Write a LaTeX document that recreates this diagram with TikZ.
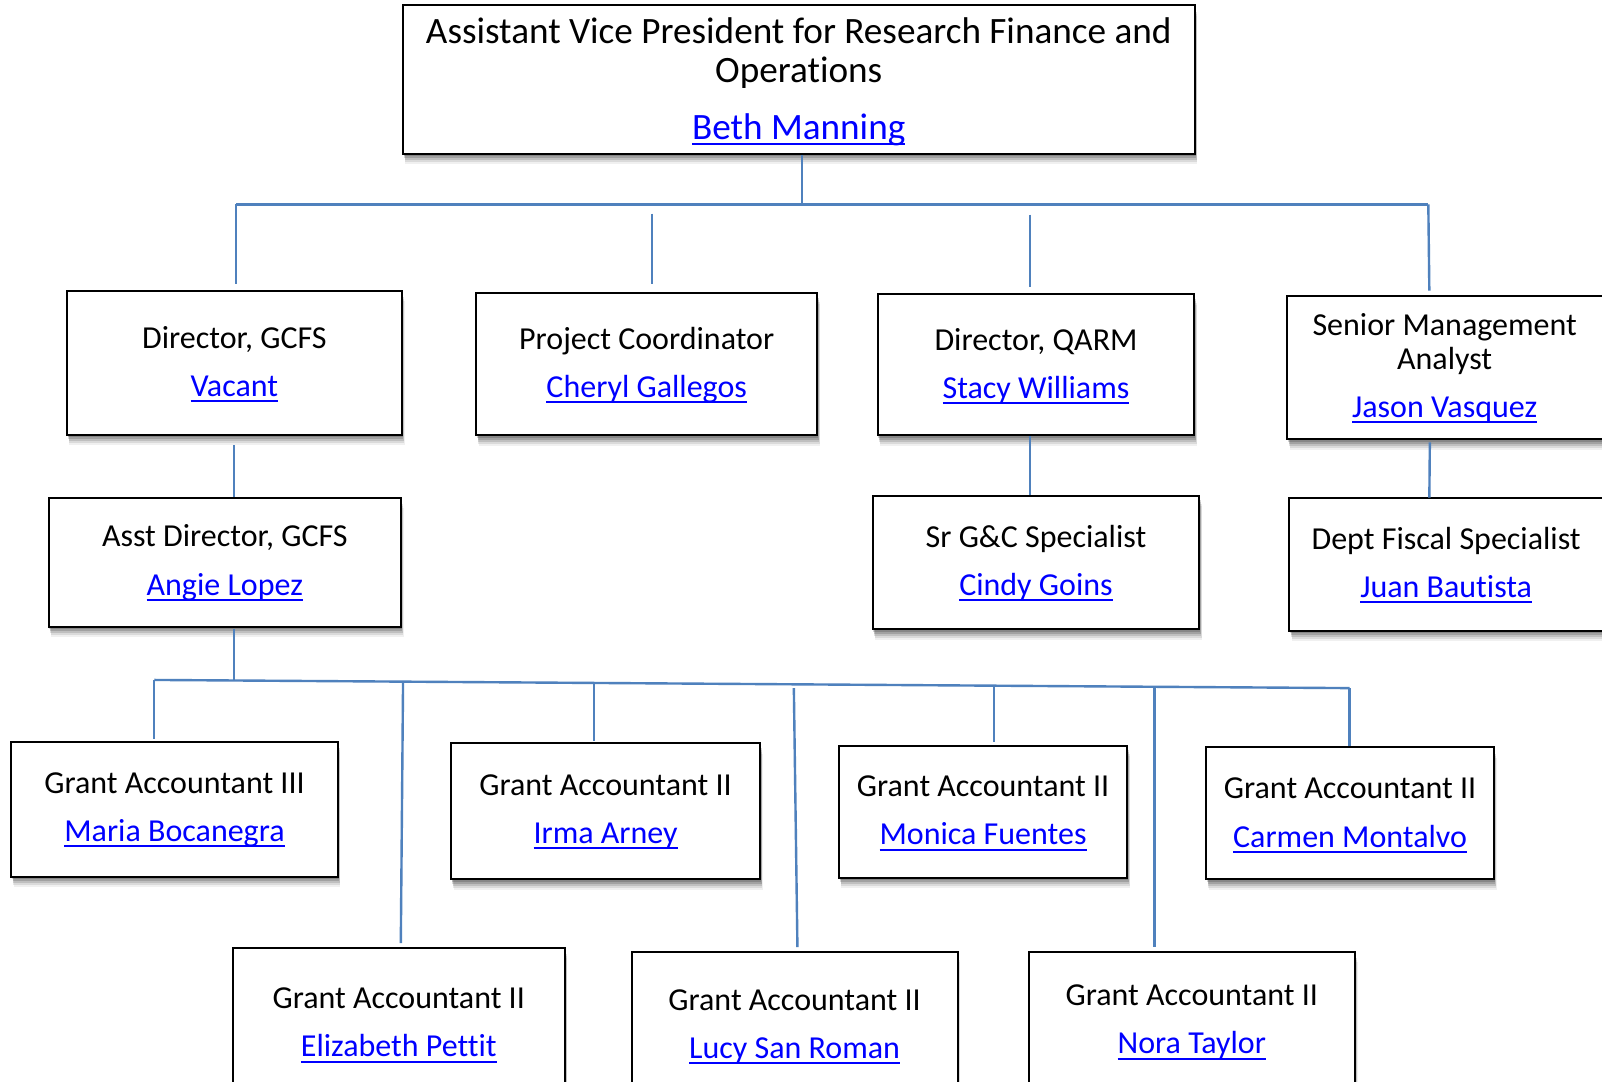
\documentclass[tikz,border=0pt]{standalone}
\usepackage{fontspec}
\setmainfont{Carlito}[Ligatures=NoCommon]
\usetikzlibrary{fit,shadows}
\definecolor{connblue}{RGB}{79,129,189}
\definecolor{linkblue}{RGB}{0,0,255}
\newcommand{\lnk}[1]{\textcolor{linkblue}{\setbox0\hbox{#1}\rlap{\vrule height -1.9pt depth 2.9pt width \wd0}\box0}}
\tikzset{
  softshadow/.style={
    general shadow={fill=black, opacity=0.17, shadow xshift=0.4pt, shadow yshift=-1.2pt},
    general shadow={fill=black, opacity=0.15, shadow xshift=0.7pt, shadow yshift=-2.2pt},
    general shadow={fill=black, opacity=0.12, shadow xshift=0.9pt, shadow yshift=-3.2pt},
    general shadow={fill=black, opacity=0.09, shadow xshift=1.1pt, shadow yshift=-4.2pt},
    general shadow={fill=black, opacity=0.06, shadow xshift=1.3pt, shadow yshift=-5.2pt}},
  orgbox/.style={draw=black, line width=1pt, fill=white, inner sep=0pt, softshadow},
  txt/.style={anchor=base, inner sep=0pt, font=\fontsize{16}{19}\selectfont},
  toptxt/.style={anchor=base, inner sep=0pt, font=\fontsize{18.6}{22}\selectfont},
  conn/.style={draw=connblue, line width=1.2pt}
}
\begin{document}
\begin{tikzpicture}[x=0.51085pt, y=-0.51085pt]
\useasboundingbox (0,0) rectangle (1568,1059);
\fill[white] (0,0) rectangle (1568,1059);

% ---------- boxes ----------
\node[orgbox, fit={(394.3,5) (1169.4,150.7)}] (avp) {};
\node[orgbox, fit={(65.3,284.8) (393.5,425.8)}] (dg) {};
\node[orgbox, fit={(466,287) (800,426)}] (pc) {};
\node[orgbox, fit={(859,288) (1169,426)}] (dq) {};
\node[orgbox, fit={(1260,289.7) (1574,430)}] (sma) {};
\node[orgbox, fit={(47.6,487) (392.5,613.4)}] (ad) {};
\node[orgbox, fit={(854,485) (1174,616)}] (sg) {};
\node[orgbox, fit={(1262,487) (1574,617.6)}] (df) {};
\node[orgbox, fit={(11,726) (330.6,858)}] (ga1) {};
\node[orgbox, fit={(441.4,727.5) (744,860.6)}] (ga2) {};
\node[orgbox, fit={(821,730) (1103.4,859.4)}] (ga3) {};
\node[orgbox, fit={(1180.5,731.4) (1462.3,860.6)}] (ga4) {};
\node[orgbox, fit={(227.7,927.5) (552.8,1076)}] (ga5) {};
\node[orgbox, fit={(618.2,931.5) (937.2,1078)}] (ga6) {};
\node[orgbox, fit={(1006.8,931.5) (1326.2,1068)}] (ga7) {};

% ---------- texts ----------
\node[toptxt] (avpT1) at (781.8,42.4) {Assistant Vice President for Research Finance and};
\node[toptxt] (avpT2) at (781.8,80.9) {Operations};
\node[toptxt] (avpN) at (781.8,136.4) {\lnk{Beth Manning}};

\node[txt] (dgT) at (229.4,341) {Director, GCFS};
\node[txt] (dgN) at (229.4,388) {\lnk{Vacant}};
\node[txt] (pcT) at (633,342) {Project Coordinator};
\node[txt] (pcN) at (633,389) {\lnk{Cheryl Gallegos}};
\node[txt] (dqT) at (1014,343) {Director, QARM};
\node[txt] (dqN) at (1014,390) {\lnk{Stacy Williams}};
\node[txt] (smaT1) at (1414,328.5) {Senior Management};
\node[txt] (smaT2) at (1414,362) {Analyst};
\node[txt] (smaN) at (1414,408.8) {\lnk{Jason Vasquez}};

\node[txt] (adT) at (220,535) {Asst Director, GCFS};
\node[txt] (adN) at (220,582.4) {\lnk{Angie Lopez}};
\node[txt] (sgT) at (1014,536) {Sr G\&C Specialist};
\node[txt] (sgN) at (1014,583) {\lnk{Cindy Goins}};
\node[txt] (dfT) at (1415.5,537.7) {Dept Fiscal Specialist};
\node[txt] (dfN) at (1415.5,585) {\lnk{Juan Bautista}};

\node[txt] (ga1T) at (170.8,776.5) {Grant Accountant III};
\node[txt] (ga1N) at (170.8,823.8) {\lnk{Maria Bocanegra}};
\node[txt] (ga2T) at (592.7,778.8) {Grant Accountant II};
\node[txt] (ga2N) at (592.7,825.4) {\lnk{Irma Arney}};
\node[txt] (ga3T) at (962.2,779.8) {Grant Accountant II};
\node[txt] (ga3N) at (962.2,827) {\lnk{Monica Fuentes}};
\node[txt] (ga4T) at (1321.4,782) {Grant Accountant II};
\node[txt] (ga4N) at (1321.4,829.3) {\lnk{Carmen Montalvo}};
\node[txt] (ga5T) at (390.3,987) {Grant Accountant II};
\node[txt] (ga5N) at (390.3,1034.3) {\lnk{Elizabeth Pettit}};
\node[txt] (ga6T) at (777.7,989.2) {Grant Accountant II};
\node[txt] (ga6N) at (777.7,1035.8) {\lnk{Lucy San Roman}};
\node[txt] (ga7T) at (1166.5,984.6) {Grant Accountant II};
\node[txt] (ga7N) at (1166.5,1031.6) {\lnk{Nora Taylor}};

% ---------- connector points ----------
\coordinate (a1) at (785,200);
\coordinate (bL) at (231,200);
\coordinate (bR) at (1398,200);
\coordinate (d1) at (231,278);
\coordinate (d2a) at (638,209);
\coordinate (d2b) at (638,278);
\coordinate (d3a) at (1008,210);
\coordinate (d3b) at (1008,281);
\coordinate (d4) at (1399,284.5);
\coordinate (e1a) at (229.3,435.6);
\coordinate (e2) at (1008,426);
\coordinate (e3a) at (1399.5,433);
\coordinate (e3b) at (1399,487);
\coordinate (f0a) at (229.3,616);
\coordinate (f0b) at (229.3,666);
\coordinate (fL) at (151,665.5);
\coordinate (fR) at (1321,673.5);
\coordinate (g1) at (151,723);
\coordinate (g2a) at (394.5,667.2);
\coordinate (g2b) at (392.3,923);
\coordinate (g3a) at (581.5,668.4);
\coordinate (g3b) at (581.5,725);
\coordinate (g4a) at (777,673.5);
\coordinate (g4b) at (780.5,927);
\coordinate (g5a) at (973,671.1);
\coordinate (g5b) at (973,726);
\coordinate (g6a) at (1130,673.5);
\coordinate (g6b) at (1130,927);

% ---------- connectors ----------
\draw[conn] (a1 |- avp.south) -- (a1);
\draw[conn] (bL) -- (bR);
\draw[conn] (bL) -- (d1);
\draw[conn] (d2a) -- (d2b);
\draw[conn] (d3a) -- (d3b);
\draw[conn] (bR) -- (d4);
\draw[conn] (e1a) -- (e1a |- ad.north);
\draw[conn] (e2 |- dq.south) -- (e2 |- sg.north);
\draw[conn] (e3a) -- (e3b);
\draw[conn] (f0a) -- (f0b);
\draw[conn] (fL) -- (fR);
\draw[conn] (fL) -- (g1);
\draw[conn] (g2a) -- (g2b);
\draw[conn] (g3a) -- (g3b);
\draw[conn] (g4a) -- (g4b);
\draw[conn] (g5a) -- (g5b);
\draw[conn] (g6a) -- (g6b);
\draw[conn] (fR) -- (fR |- ga4.north);
\end{tikzpicture}
\end{document}
